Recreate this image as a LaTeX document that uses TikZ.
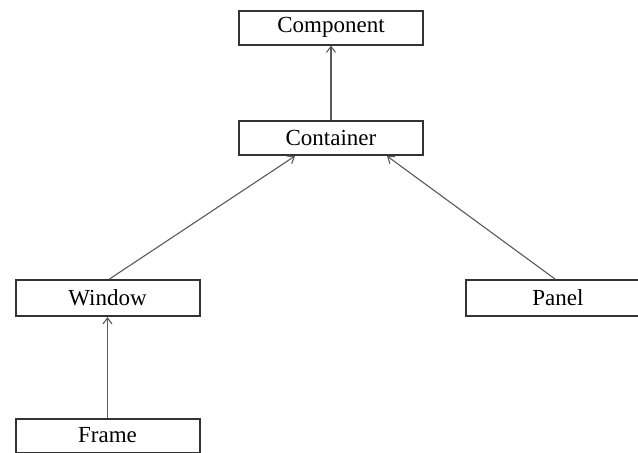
\documentclass[tikz,border=0pt]{standalone}
\usepackage{fontspec}
\setmainfont{Liberation Serif}
\usetikzlibrary{positioning, arrows.meta}

\begin{document}
\begin{tikzpicture}[x=0.5pt, y=-0.5pt,
    box/.style={draw=black!80, line width=1pt, fill=white, minimum width=92pt,
      minimum height=17pt, inner sep=0pt, font=\fontsize{11.5}{14}\selectfont},
    link/.style={-{Straight Barb[length=3pt, width=4.5pt]}, black!65, line width=0.55pt}]
  \useasboundingbox (0,0) rectangle (638,452);
  \clip (0,0) rectangle (638,452);
  % class boxes
  \node[box] (comp) at (331,27.5) {Component};
  \node[box] (cont) at (331,138) {Container};
  \node[box, minimum height=18pt] (win) at (107.5,298) {Window};
  \node[box, minimum height=18pt] (pan) at (558,298) {Panel};
  \node[box] (frm) at (107.5,435.5) {Frame};
  % inheritance arrows
  \draw[link] (cont) -- (comp);
  \draw[link] ([xshift=1pt]win.north) -- ([xshift=-18pt]cont.south);
  \draw[link] ([xshift=-1.5pt]pan.north) -- ([xshift=28pt]cont.south);
  \draw[link] (frm) -- (win);
\end{tikzpicture}
\end{document}
